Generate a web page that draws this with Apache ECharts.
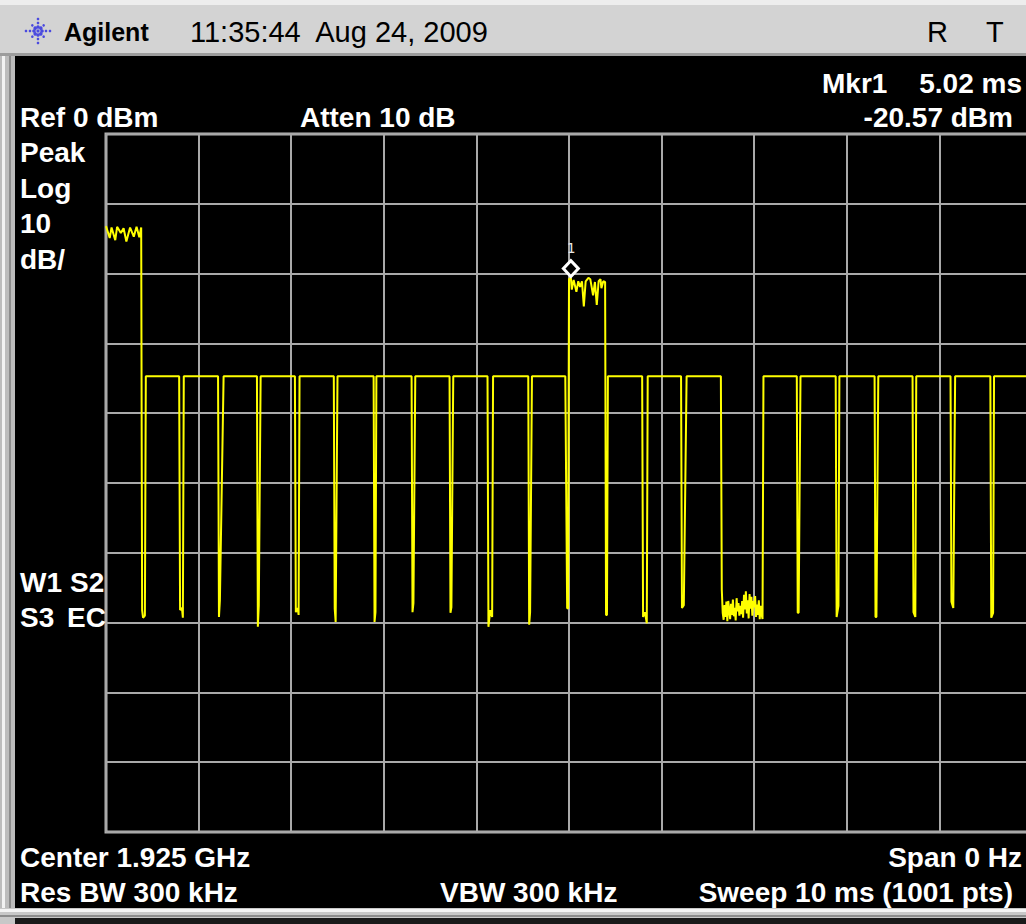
<!DOCTYPE html>
<html>
<head>
<meta charset="utf-8">
<title>Agilent zero-span sweep</title>
<script src="https://cdn.jsdelivr.net/npm/echarts/dist/echarts.min.js"></script>
<style>
  html, body { margin: 0; padding: 0; background: #000; overflow: hidden; }
  #chart { width: 1026px; height: 924px; }
</style>
</head>
<body>
<div id="chart"></div>
<script>
// Zero-span sweep at 1.925 GHz, 10 ms wide. Trace breakpoints as [time ms, level dBm].
const openingBurst = [
  [0.00, -13.2], [0.04, -14.9], [0.06, -13.4], [0.10, -15.2], [0.12, -13.3],
  [0.16, -14.2], [0.19, -13.5], [0.22, -15.4], [0.26, -13.4], [0.30, -14.7],
  [0.33, -13.3], [0.36, -14.8], [0.38, -13.4]
];
const slotTraceA = [
  [0.39, -68.2], [0.40, -69.3], [0.42, -69.0], [0.43, -34.7],
  [0.79, -34.7], [0.80, -68.2], [0.82, -67.9], [0.83, -69.3], [0.84, -34.7],
  [1.21, -34.7], [1.22, -69.2], [1.23, -66.8], [1.27, -34.7],
  [1.63, -34.7], [1.64, -70.6], [1.65, -67.5], [1.67, -34.7],
  [2.04, -34.7], [2.05, -68.5], [2.07, -67.9], [2.08, -68.9], [2.09, -34.7],
  [2.46, -34.7], [2.47, -68.0], [2.48, -69.9], [2.50, -34.7],
  [2.89, -34.7], [2.90, -69.9], [2.91, -68.5], [2.92, -34.7],
  [3.30, -34.7], [3.31, -68.5], [3.32, -67.2], [3.34, -34.7],
  [3.71, -34.7], [3.72, -68.6], [3.73, -67.8], [3.75, -34.7],
  [4.12, -34.7], [4.13, -70.6], [4.15, -68.2], [4.17, -69.2], [4.18, -34.7],
  [4.56, -34.7], [4.57, -70.3], [4.58, -68.5], [4.60, -34.7],
  [4.96, -34.7], [4.98, -67.9], [4.99, -68.0]
];
const markerBurst = [
  [5.00, -20.8], [5.02, -20.57], [5.03, -22.3], [5.05, -20.9], [5.08, -22.6],
  [5.10, -21.1], [5.12, -21.9], [5.14, -21.1], [5.16, -24.7], [5.18, -21.1],
  [5.21, -20.6], [5.23, -20.8], [5.26, -23.1], [5.28, -21.2], [5.30, -24.5],
  [5.32, -21.1], [5.34, -20.8], [5.35, -22.1], [5.37, -21.1], [5.39, -21.2]
];
const slotTraceB = [
  [5.40, -68.9], [5.41, -68.9], [5.42, -34.7],
  [5.79, -34.7], [5.80, -69.2], [5.82, -68.5], [5.84, -70.1], [5.85, -34.7],
  [6.21, -34.7], [6.22, -67.9], [6.24, -67.5], [6.27, -34.7],
  [6.64, -34.7]
];
const idleSlot = [
  [6.65, -65.3], [6.66, -68.6], [6.67, -69.6], [6.68, -67.5], [6.69, -69.2],
  [6.70, -67.0], [6.71, -69.8], [6.72, -66.9], [6.73, -68.2], [6.74, -69.5],
  [6.75, -67.3], [6.76, -68.9], [6.77, -66.7], [6.78, -69.1], [6.79, -67.9],
  [6.80, -69.7], [6.81, -66.5], [6.82, -68.4], [6.83, -67.2], [6.84, -69.0],
  [6.85, -67.6], [6.86, -68.8], [6.87, -66.9], [6.88, -69.3], [6.89, -66.0],
  [6.90, -68.1], [6.91, -65.5], [6.92, -68.7], [6.93, -66.8], [6.94, -69.4],
  [6.95, -65.9], [6.96, -68.0], [6.97, -66.3], [6.98, -69.0], [6.99, -66.9],
  [7.00, -67.8], [7.01, -66.2], [7.02, -69.2], [7.03, -67.4], [7.04, -68.9],
  [7.05, -66.8], [7.06, -69.5], [7.07, -67.6], [7.08, -68.8], [7.09, -69.5]
];
const slotTraceC = [
  [7.10, -34.7],
  [7.46, -34.7], [7.47, -68.6], [7.48, -68.6], [7.50, -34.7],
  [7.88, -34.7], [7.89, -69.2], [7.91, -67.6], [7.92, -34.7],
  [8.30, -34.7], [8.31, -69.2], [8.32, -69.2], [8.34, -34.7],
  [8.71, -34.7], [8.72, -68.5], [8.74, -69.2], [8.75, -34.7],
  [9.12, -34.7], [9.13, -67.0], [9.15, -67.9], [9.17, -34.7],
  [9.55, -34.7], [9.56, -69.3], [9.58, -68.6], [9.59, -34.7],
  [10.00, -34.7]
];

// Marker 1 readout
const markerTime = 5.02;      // ms
const markerLevel = -20.57;   // dBm

// Screen scale: reference 0 dBm, 10 dB/div, 10 divisions; sweep 10 ms
const refLevel = 0;
const dbPerDiv = 10;
const sweepMs = 10;

const trace = [].concat(openingBurst, slotTraceA, markerBurst, slotTraceB, idleSlot, slotTraceC);

const BOLD = 'bold 28px "Liberation Sans", Arial, sans-serif';
const HEADER_FONT = '29px "Liberation Sans", Arial, sans-serif';
const WHITE = '#ffffff';

function label(text, x, y, align, font, fill) {
  return {
    type: 'text', x: x, y: y, z: 10, silent: true,
    style: { text: text, fill: fill || WHITE, font: font || BOLD, align: align || 'left', verticalAlign: 'middle' }
  };
}
function block(x, y, w, h, fill) {
  return { type: 'rect', shape: { x: x, y: y, width: w, height: h }, style: { fill: fill }, z: 5, silent: true };
}

// Agilent spark logo: dots on radial spokes
function logoDots(cx, cy) {
  const dots = [];
  for (let k = 0; k < 8; k++) {
    const a = k * Math.PI / 4;
    const len = (k % 2 === 0) ? 15 : 10;
    for (let r = 4; r <= len; r += 4) {
      dots.push({
        type: 'circle', z: 11, silent: true,
        shape: { cx: cx + Math.cos(a) * r, cy: cy + Math.sin(a) * r, r: r < 6 ? 1.8 : 1.3 },
        style: { fill: '#4a4adf' }
      });
    }
  }
  dots.push({ type: 'circle', z: 11, silent: true, shape: { cx: cx, cy: cy, r: 1.6 }, style: { fill: '#4a4adf' } });
  return dots;
}

const header = [
  block(0, 0, 1026, 56, '#d3d3d3'),
  block(0, 0, 1026, 5, '#ededed'),
  block(0, 53, 1026, 3, '#9c9c9c'),
  // instrument frame
  block(0, 56, 15, 868, '#bcbcbc'),
  block(2, 56, 3, 868, '#f2f2f2'),
  block(9, 56, 2, 868, '#8c8c8c'),
  block(0, 908, 1026, 16, '#c8c8c8'),
  block(0, 909, 1026, 3, '#f4f4f4'),
  block(0, 915, 1026, 2, '#8c8c8c'),
  block(15, 918, 1011, 6, '#1a1a1a'),
  label('Agilent', 64, 32, 'left', 'bold 25px "Liberation Sans", Arial, sans-serif', '#000'),
  label('11:35:44  Aug 24, 2009', 190, 32, 'left', HEADER_FONT, '#000'),
  label('R', 927, 32, 'left', HEADER_FONT, '#000'),
  label('T', 986, 32, 'left', HEADER_FONT, '#000')
].concat(logoDots(38, 31));

const annotations = [
  label('Mkr1', 822, 83),
  label(markerTime.toFixed(2) + ' ms', 1022, 83, 'right'),
  label('Ref ' + refLevel + ' dBm', 20, 117),
  label('Atten 10 dB', 300, 117),
  label(markerLevel.toFixed(2) + ' dBm', 1013, 117, 'right'),
  label('Peak', 20, 152),
  label('Log', 20, 188),
  label(String(dbPerDiv), 20, 223),
  label('dB/', 20, 259),
  label('W1', 20, 582),
  label('S2', 70, 582),
  label('S3', 20, 617),
  label('EC', 67, 617),
  label('Center 1.925 GHz', 20, 857),
  label('Span 0 Hz', 1022, 857, 'right'),
  label('Res BW 300 kHz', 20, 892),
  label('VBW 300 kHz', 440, 892),
  label('Sweep ' + sweepMs + ' ms (1001 pts)', 1013, 892, 'right')
];

const chart = echarts.init(document.getElementById('chart'), null, { renderer: 'svg' });
chart.setOption({
  animation: false,
  backgroundColor: '#000',
  grid: {
    left: 106, top: 134, width: 926, height: 698,
    show: true, backgroundColor: '#000', borderColor: '#b4b4b4', borderWidth: 3,
    containLabel: false, outerBoundsMode: 'none'
  },
  xAxis: {
    type: 'value', min: 0, max: sweepMs, interval: 1,
    axisLabel: { show: false }, axisTick: { show: false }, axisLine: { show: false },
    splitLine: { show: true, lineStyle: { color: '#a9a9a9', width: 2 } }
  },
  yAxis: {
    type: 'value', min: refLevel - 10 * dbPerDiv, max: refLevel, interval: dbPerDiv,
    axisLabel: { show: false }, axisTick: { show: false }, axisLine: { show: false },
    splitLine: { show: true, lineStyle: { color: '#a9a9a9', width: 2 } }
  },
  graphic: { elements: header.concat(annotations) },
  series: [
    {
      type: 'line', data: trace, symbol: 'none', clip: true, silent: true,
      lineStyle: { color: '#ffff00', width: 2 }, z: 3
    },
    {
      type: 'scatter', data: [[markerTime, markerLevel]], silent: true,
      symbol: 'diamond', symbolSize: [15, 16], symbolOffset: [0, -9], z: 4,
      itemStyle: { color: '#000000', borderColor: '#ffffff', borderWidth: 3, opacity: 1 },
      label: {
        show: true, formatter: '1', position: 'top', distance: 4,
        color: '#e6e6e6', fontFamily: '"DejaVu Sans Mono", monospace', fontSize: 14
      }
    }
  ]
});
</script>
</body>
</html>
